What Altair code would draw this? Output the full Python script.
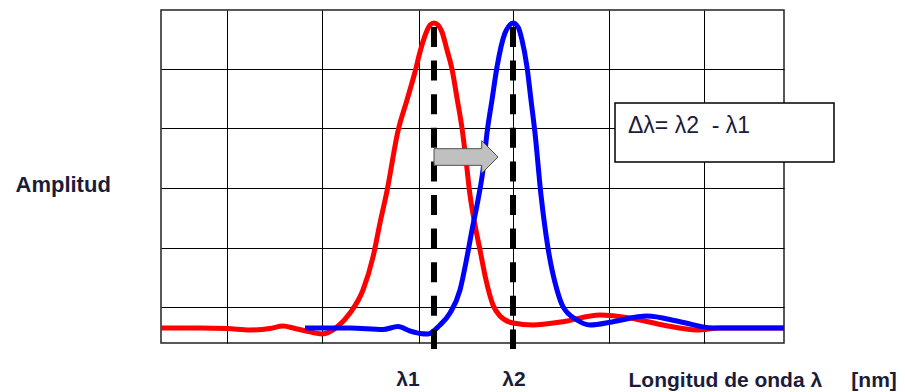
import altair as alt
import pandas as pd

# ---- data (x, y in arbitrary plot units) ----
x_grid = [66, 161, 258, 352, 448, 543]
y_grid = [36, 95, 155, 215, 274]

red_x = [0, 39, 66, 89, 109, 122, 134, 144, 161, 176,
         189, 202, 212, 219, 226, 237, 246, 254, 259, 265,
         269, 273, 277, 281, 286, 291, 296, 301, 305, 309,
         314, 319, 325, 332, 339, 352, 372, 402, 439, 469,
         502, 536, 559, 623]
red_y = [15, 15, 14.5, 13, 14.5, 17, 14.5, 12.3, 9, 16,
         30, 53, 86, 120, 152, 212, 243, 271, 291, 310,
         318, 320, 318, 311, 293, 274, 245, 215, 183, 148,
         118, 93, 63, 38, 27, 20, 18, 21.3, 28, 25,
         18, 13, 15, 15]

blue_x = [144, 189, 222, 237, 249, 259, 267, 279, 289, 299,
          306, 311, 317, 322, 326, 331, 336, 344, 348, 352,
          357, 361, 366, 370, 374, 380, 387, 396, 402, 416,
          429, 452, 486, 519, 552, 623]
blue_y = [15, 15, 13.5, 16.5, 12, 9.5, 9, 18, 30, 53,
          86, 113, 143, 173, 210, 243, 276, 310, 317, 320,
          316, 303, 276, 243, 210, 148, 95, 53, 36.3, 23,
          18, 21.3, 27, 21.3, 15, 15]

lambda_pos = [273, 352]
lambda_labels = ["λ1", "λ2"]
lambda_top = [316, 316]
lambda_bottom = [-6, -6]

arrow_start = [273]
arrow_end = [337]
arrow_level = [186]

box_x = [454, 673]
box_y = [181, 240]
box_text = ["Δλ= λ2\u00a0 - λ1"]

FONT = "Liberation Sans"
TXT = "#1c1c3a"

xs = alt.Scale(domain=[0, 623], nice=False, zero=False)
ys = alt.Scale(domain=[0, 333], nice=False, zero=False)

red_df = pd.DataFrame({"x": red_x, "y": red_y})
blue_df = pd.DataFrame({"x": blue_x, "y": blue_y})
lam_df = pd.DataFrame({"x": lambda_pos, "y": lambda_top, "bottom": lambda_bottom, "label": lambda_labels})
arrow_df = pd.DataFrame({"x": [(a + b) / 2 for a, b in zip(arrow_start, arrow_end)], "y": arrow_level})
box_df = pd.DataFrame({"x": [box_x[0]], "x2": [box_x[1]], "y": [box_y[1]], "y2": [box_y[0]], "t": box_text})

x_axis = alt.Axis(values=x_grid, grid=True, gridColor="#000", gridWidth=1, gridOpacity=1,
                  labels=False, ticks=False, domain=False,
                  title="Longitud de onda λ\u00a0\u00a0\u00a0\u00a0 [nm]",
                  titleFont=FONT, titleFontSize=21, titleFontWeight="bold", titleColor=TXT,
                  titleX=467, titleY=43, titleAlign="left", titleBaseline="alphabetic", titleAnchor="start")
y_axis = alt.Axis(values=y_grid, grid=True, gridColor="#000", gridWidth=1, gridOpacity=1,
                  labels=False, ticks=False, domain=False,
                  title="Amplitud", titleAngle=0,
                  titleFont=FONT, titleFontSize=22, titleFontWeight="bold", titleColor=TXT,
                  titleX=-146, titleY=181, titleAlign="left", titleBaseline="alphabetic")

X = alt.X("x:Q", scale=xs, axis=x_axis)
Y = alt.Y("y:Q", scale=ys, axis=y_axis)

red = alt.Chart(red_df).mark_line(color="#ff0000", strokeWidth=5, interpolate="monotone").encode(x=X, y=Y)
blue = alt.Chart(blue_df).mark_line(color="#0000ff", strokeWidth=5, interpolate="monotone").encode(x=X, y=Y)
dashes = alt.Chart(lam_df).mark_rule(color="#000", strokeWidth=6, strokeDash=[20, 13.6]).encode(
    x=X, y=Y, y2="bottom:Q",
)
lab1 = alt.Chart(lam_df).transform_filter(alt.datum.label == "λ1").mark_text(
    font=FONT, fontSize=21, fontWeight="bold", color=TXT, align="center", baseline="alphabetic", dx=-26
).encode(x=X, y=alt.value(376), text="label:N")
lab2 = alt.Chart(lam_df).transform_filter(alt.datum.label == "λ2").mark_text(
    font=FONT, fontSize=21, fontWeight="bold", color=TXT, align="center", baseline="alphabetic", dx=1
).encode(x=X, y=alt.value(376), text="label:N")

arrow_shape = "M-1,-0.26L0.49,-0.26L0.49,-0.51L1,0L0.49,0.51L0.49,0.26L-1,0.26Z"
arrow = alt.Chart(arrow_df).mark_point(shape=arrow_shape, size=4096, filled=True, fill="#c0c0c0",
                                       stroke="#505050", strokeWidth=1, opacity=1).encode(x=X, y=Y)

box = alt.Chart(box_df).mark_rect(fill="white", stroke="#000", strokeWidth=1.5).encode(
    x=X, x2="x2:Q", y=Y, y2="y2:Q",
)
box_label = alt.Chart(box_df).mark_text(font=FONT, fontSize=23, color=TXT, align="left",
                                         baseline="middle", dx=13, dy=23).encode(
    x=X, y=Y, text="t:N",
)

chart = alt.layer(red, blue, dashes, arrow, box, box_label, lab1, lab2).properties(
    width=623, height=333,
    autosize=alt.AutoSizeParams(type="none"),
    padding={"left": 161, "top": 10, "right": 121, "bottom": 49},
    background="white",
).configure_view(stroke="#222", strokeWidth=1.5)

chart.save("out.html", embed_options={"renderer": "svg", "actions": False})
